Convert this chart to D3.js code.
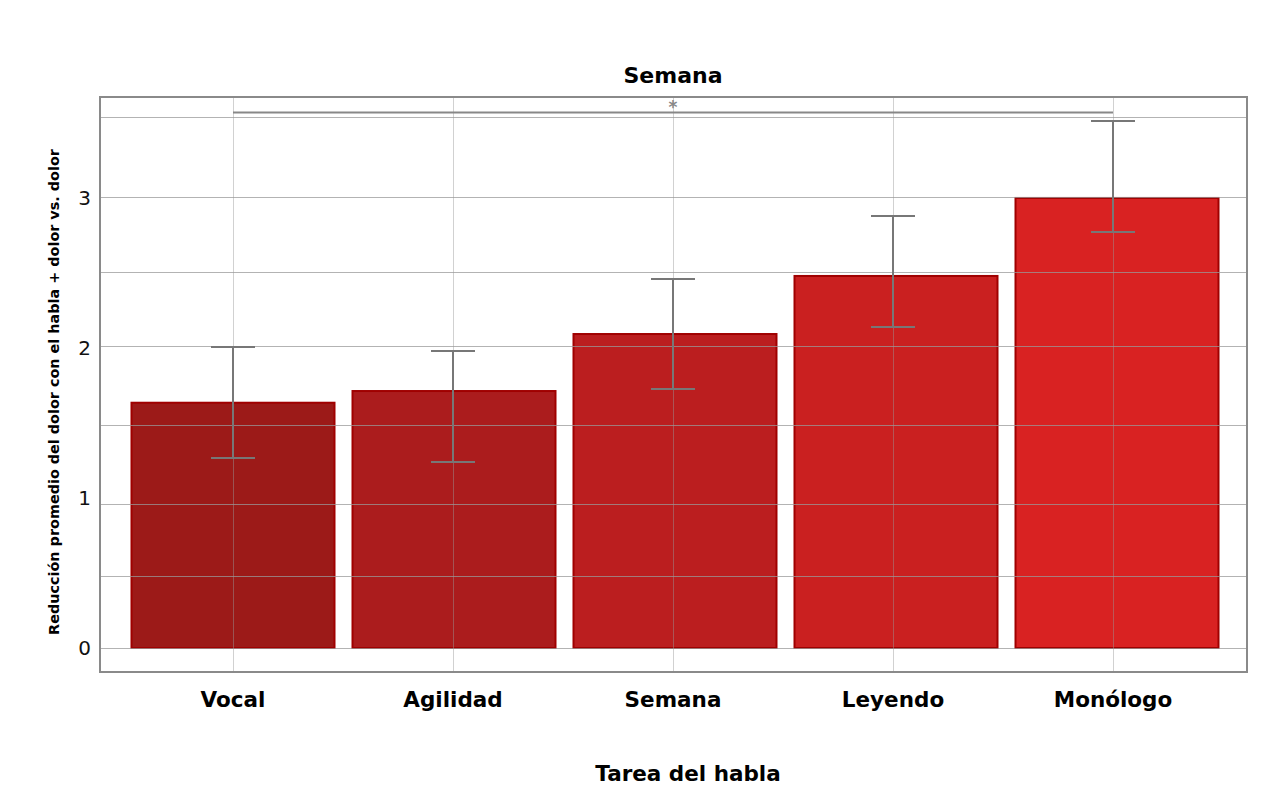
<!DOCTYPE html>
<html><head><meta charset="utf-8">
<script src="https://cdn.jsdelivr.net/npm/d3@7"></script>
<style>body{margin:0;background:#fff}svg{display:block}</style>
</head><body>
<svg id="c" width="1275" height="792"></svg>
<script>
const categories = ["Vocal", "Agilidad", "Semana", "Leyendo", "Monólogo"];
const means = [1.635, 1.713, 2.093, 2.48, 3.0];
const errLow = [1.267, 1.24, 1.727, 2.14, 2.773];
const errHigh = [2.007, 1.98, 2.46, 2.88, 3.513];
const barColors = ["#9c1a18", "#ab1c1d", "#bb1e1f", "#ca2020", "#d92222"];
const yTicks = [0, 1, 2, 3];
const gridValues = [0, 0.48, 0.96, 1.487, 2.013, 2.507, 3.007, 3.54];
const sigPair = ["Vocal", "Monólogo"];
const sigLabel = "*";
const titleText = "Semana";
const xTitle = "Tarea del habla";
const yTitle = "Reducción promedio del dolor con el habla + dolor vs. dolor";

const FONT = "'DejaVu Sans', sans-serif";
const svg = d3.select("#c");
const L = 100, R = 1247, T = 97, B = 672;

const x = d3.scaleBand().domain(categories).range([123, 1223]);
const xBar = d3.scaleBand().domain(categories).range([122.5, 1227.5]);
const y = d3.scaleLinear().domain([-0.16, 3.673]).range([B, T]);
const cx = c => x(c) + x.bandwidth() / 2;
const cxBar = c => xBar(c) + xBar.bandwidth() / 2;
const barW = 203;

// bars
svg.append("g").selectAll("rect").data(categories).join("rect")
  .attr("x", d => cxBar(d) - barW / 2)
  .attr("y", (d, i) => y(means[i]))
  .attr("width", barW)
  .attr("height", (d, i) => y(0) - y(means[i]))
  .attr("fill", (d, i) => barColors[i])
  .attr("stroke", "#a00000")
  .attr("stroke-width", 2);

// grid (drawn over bars, translucent)
const grid = svg.append("g");
grid.selectAll("line.h").data(gridValues).join("line")
  .attr("x1", L).attr("x2", R)
  .attr("y1", d => Math.round(y(d)) + 0.5).attr("y2", d => Math.round(y(d)) + 0.5)
  .attr("stroke", "#9a9a9a").attr("stroke-opacity", 0.75).attr("stroke-width", 1);
grid.selectAll("line.v").data(categories).join("line")
  .attr("x1", d => Math.round(cx(d)) + 0.5).attr("x2", d => Math.round(cx(d)) + 0.5)
  .attr("y1", T).attr("y2", B)
  .attr("stroke", "#9a9a9a").attr("stroke-opacity", 0.45).attr("stroke-width", 1);

// error bars
const eb = svg.append("g").attr("stroke", "#777").attr("stroke-width", 2);
categories.forEach((c, i) => {
  const xc = cx(c);
  eb.append("line").attr("x1", xc).attr("x2", xc).attr("y1", y(errLow[i])).attr("y2", y(errHigh[i]));
  eb.append("line").attr("x1", xc - 22).attr("x2", xc + 22).attr("y1", y(errHigh[i])).attr("y2", y(errHigh[i]));
  eb.append("line").attr("x1", xc - 22).attr("x2", xc + 22).attr("y1", y(errLow[i])).attr("y2", y(errLow[i]));
});

// frame
svg.append("rect").attr("x", L).attr("y", T).attr("width", R - L).attr("height", B - T)
  .attr("fill", "none").attr("stroke", "#8a8a8a").attr("stroke-width", 2);

// significance bracket
const sx1 = cx(sigPair[0]), sx2 = cx(sigPair[1]);
svg.append("line").attr("x1", sx1).attr("x2", sx2).attr("y1", 112.5).attr("y2", 112.5)
  .attr("stroke", "#888").attr("stroke-width", 2);
svg.append("text").attr("x", (sx1 + sx2) / 2).attr("y", 113)
  .attr("text-anchor", "middle").attr("font-family", FONT).attr("font-weight", 700)
  .attr("font-size", 17).attr("fill", "#888").text(sigLabel);

// y axis labels
const yAxis = d3.axisLeft(y).tickValues(yTicks).tickSize(0).tickPadding(0).tickFormat(d3.format("d"));
const ya = svg.append("g").attr("transform", `translate(${L - 9},0)`).call(yAxis);
ya.select(".domain").remove();
ya.selectAll("text").attr("font-family", FONT).attr("font-size", 20).attr("fill", "#111").attr("dy", "0.35em");

// x axis labels
const xAxis = d3.axisBottom(x).tickSize(0).tickPadding(0);
const xa = svg.append("g").attr("transform", `translate(0,${B})`).call(xAxis);
xa.select(".domain").remove();
xa.selectAll("text").attr("font-family", FONT).attr("font-weight", 700).attr("font-size", 21.5)
  .attr("fill", "#000").attr("y", 35).attr("dy", 0);

// titles
svg.append("text").attr("x", 673).attr("y", 83).attr("text-anchor", "middle")
  .attr("font-family", FONT).attr("font-weight", 700).attr("font-size", 22).text(titleText);
svg.append("text").attr("x", 688).attr("y", 781).attr("text-anchor", "middle")
  .attr("font-family", FONT).attr("font-weight", 700).attr("font-size", 21.5).text(xTitle);
svg.append("text").attr("transform", "translate(59,392) rotate(-90)").attr("text-anchor", "middle")
  .attr("font-family", FONT).attr("font-weight", 700).attr("font-size", 14.4).text(yTitle);
</script>
</body></html>
